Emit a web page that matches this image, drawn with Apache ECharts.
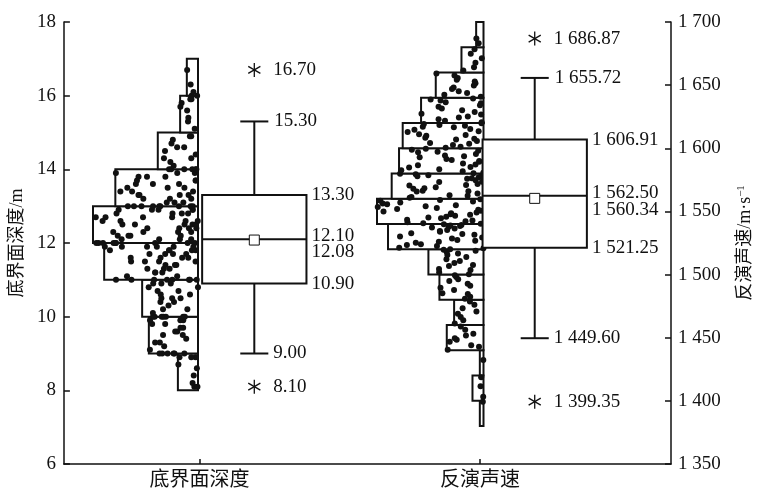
<!DOCTYPE html>
<html><head><meta charset="utf-8">
<script src="https://cdn.jsdelivr.net/npm/echarts@6/dist/echarts.min.js"></script>
<style>html,body{margin:0;padding:0;background:#fff}#c{width:762px;height:492px}</style>
</head><body><div id="c"></div>
<script>
// ---------------- data ----------------
const categories = ['底界面深度', '反演声速'];
const depthTicks = [6, 8, 10, 12, 14, 16, 18];
const velTicks = [1350, 1400, 1450, 1500, 1550, 1600, 1650, 1700];
const depthBinEdges = [8, 9, 10, 11, 12, 13, 14, 15, 16, 17];
const velBinEdges = [1380, 1400, 1420, 1440, 1460, 1480, 1500, 1520, 1540, 1560, 1580, 1600, 1620, 1640, 1660, 1680, 1700];
// box: [min, lower whisker, Q1, median, Q3, upper whisker, max]
const depthBox = [8.10, 9.00, 10.90, 12.10, 13.30, 15.30, 16.70];
const depthMean = 12.08;
const velBox = [1399.35, 1449.60, 1521.25, 1562.50, 1606.91, 1655.72, 1686.87];
const velMean = 1560.34;

const depthPoints = [
  8.1, 8.1, 8.2, 8.4, 8.6, 8.7, 8.9, 8.9, 8.9,
  9.0, 9.0, 9.0, 9.0, 9.0, 9.0, 9.1, 9.2, 9.3, 9.3, 9.4, 9.5, 9.5, 9.6, 9.6, 9.7, 9.7, 9.8, 9.8, 9.9, 9.9, 9.9,
  10.0, 10.0, 10.0, 10.0, 10.0, 10.0, 10.0, 10.1, 10.2, 10.2, 10.3, 10.4, 10.4, 10.5, 10.5, 10.5, 10.6, 10.6, 10.7, 10.7, 10.8, 10.8, 10.9, 10.9, 10.9,
  11.0, 11.0, 11.0, 11.0, 11.0, 11.0, 11.0, 11.0, 11.1, 11.1, 11.2, 11.2, 11.2, 11.3, 11.3, 11.3, 11.4, 11.4, 11.4, 11.5, 11.5, 11.5, 11.5,
  11.6, 11.6, 11.6, 11.6, 11.7, 11.7, 11.7, 11.7, 11.8, 11.8, 11.8, 11.8, 11.8, 11.9, 11.9, 11.9, 11.9, 11.9, 11.9,
  12.0, 12.0, 12.0, 12.0, 12.0, 12.0, 12.0, 12.0, 12.0, 12.1, 12.1, 12.1, 12.1, 12.2, 12.2, 12.2, 12.2, 12.3, 12.3, 12.3, 12.3,
  12.4, 12.4, 12.4, 12.4, 12.5, 12.5, 12.5, 12.5, 12.5, 12.6, 12.6, 12.6, 12.6, 12.7, 12.7, 12.7, 12.7, 12.8, 12.8, 12.8, 12.8,
  12.9, 12.9, 12.9, 12.9, 12.9,
  13.0, 13.0, 13.0, 13.0, 13.0, 13.0, 13.0, 13.0, 13.0, 13.1, 13.1, 13.1, 13.2, 13.2, 13.2, 13.3, 13.3, 13.3, 13.3,
  13.4, 13.4, 13.4, 13.5, 13.5, 13.5, 13.6, 13.6, 13.6, 13.7, 13.7, 13.7, 13.8, 13.8, 13.8, 13.9, 13.9, 13.9,
  14.0, 14.0, 14.0, 14.0, 14.0, 14.0, 14.1, 14.2, 14.3, 14.3, 14.4, 14.5, 14.6, 14.6, 14.7, 14.8, 14.9, 14.9,
  15.1, 15.3, 15.4, 15.6, 15.7, 15.8, 15.9, 15.9,
  16.0, 16.0, 16.1, 16.3, 16.7
];

const velPoints = [
  1399.35,
  1403.2, 1411.5, 1418.7,
  1432.4,
  1440.5, 1442.8, 1444.1, 1446.9, 1448.3, 1449.6, 1451.7, 1453.2, 1456.4, 1458.8,
  1461.2, 1463.9, 1466.5, 1469.0, 1470.8, 1473.4, 1476.1, 1478.7,
  1480.9, 1482.4, 1484.6, 1485.3, 1487.8, 1489.5, 1491.2, 1492.7, 1494.9, 1496.3, 1498.0, 1499.4,
  1500.3, 1501.9, 1503.6, 1504.4, 1506.8, 1507.5, 1509.1, 1510.7, 1512.2, 1513.9, 1515.4, 1516.6, 1517.9, 1518.8, 1519.6,
  1520.1, 1520.8, 1521.3, 1522.6, 1523.4, 1524.0, 1525.2, 1525.9, 1526.7, 1527.3, 1528.6, 1529.4, 1530.1, 1531.5, 1532.2, 1532.8,
  1533.9, 1534.6, 1535.3, 1536.5, 1537.2, 1537.9, 1538.4, 1538.8, 1539.3, 1539.9,
  1540.3, 1540.7, 1541.5, 1542.2, 1542.9, 1543.4, 1544.6, 1545.1, 1545.8, 1546.5, 1547.3, 1547.7, 1548.6, 1549.2, 1549.9,
  1550.5, 1551.4, 1551.9, 1552.7, 1553.5, 1554.1, 1554.8, 1555.6, 1556.3, 1557.1, 1557.8, 1558.4, 1559.0, 1559.6,
  1560.8, 1561.4, 1562.5, 1562.9, 1564.1, 1565.7, 1566.0, 1566.3, 1567.9, 1568.4, 1569.2, 1570.6, 1571.0, 1571.8, 1573.3,
  1573.5, 1574.7, 1575.9, 1576.2, 1577.0, 1577.8, 1578.1, 1578.6, 1579.4, 1579.9,
  1580.2, 1580.7, 1581.9, 1582.6, 1583.4, 1584.8, 1585.1, 1586.5, 1587.2, 1587.9, 1589.3, 1590.0, 1590.8, 1591.6, 1592.9,
  1593.7, 1594.2, 1595.5, 1596.8, 1597.3, 1598.1, 1598.9, 1599.6,
  1600.4, 1601.3, 1602.7, 1603.5, 1604.1, 1605.8, 1606.9, 1607.6, 1608.3, 1609.9, 1610.5, 1611.2, 1612.8, 1613.4, 1614.7,
  1615.3, 1616.6, 1617.1, 1617.9, 1618.5, 1619.2, 1619.8,
  1620.6, 1621.8, 1622.9, 1624.3, 1625.1, 1626.7, 1627.4, 1628.8, 1630.2, 1631.5, 1632.9, 1634.1, 1635.6, 1636.4, 1637.8, 1638.7, 1639.5,
  1640.9, 1642.3, 1643.8, 1645.2, 1646.9, 1648.1, 1649.7, 1651.4, 1652.8, 1654.3, 1655.7, 1657.6, 1659.2,
  1661.5, 1664.2, 1667.8, 1671.3, 1674.9, 1678.4,
  1683.1, 1686.87
];

// ---------------- helpers ----------------
const SERIF = '"Liberation Serif","Times New Roman","Noto Sans CJK SC",serif';
const catPos = [0, 1];

function binIndex(v, edges) {
  for (let i = 0; i < edges.length - 1; i++) {
    if (v >= edges[i] && v < edges[i + 1]) return i;
  }
  return edges.length - 2;
}
function histogram(points, edges) {
  const c = new Array(edges.length - 1).fill(0);
  points.forEach(v => c[binIndex(v, edges)]++);
  return c;
}
const depthCounts = histogram(depthPoints, depthBinEdges);
const velCounts = histogram(velPoints, velBinEdges);

function histData(counts, edges) {
  return counts.map((c, i) => [c, edges[i], edges[i + 1]]);
}
// deterministic horizontal jitter (layout only, no data): index hash -> position across the bin's bar
function jitter(i) {
  const s = Math.sin((i + 1) * 78.233) * 43758.5453;
  return s - Math.floor(s);
}
function dotData(points, edges, counts) {
  return points.map((v, i) => {
    const c = counts[binIndex(v, edges)];
    return [jitter(i) * c, v];
  });
}
function fmtThousands(v, digits) {
  const s = digits == null ? String(v) : v.toFixed(digits);
  const parts = s.split('.');
  const ip = parts[0].replace(/\B(?=(\d{3})+(?!\d))/g, ' ');
  return parts.length > 1 ? ip + '.' + parts[1] : ip;
}

function histSeries(counts, edges, gi) {
  return {
    type: 'custom', xAxisIndex: gi, yAxisIndex: gi + 1, z: 1,
    data: histData(counts, edges),
    renderItem: function (params, api) {
      const a = api.coord([api.value(0), api.value(2)]);
      const b = api.coord([0, api.value(1)]);
      return {
        type: 'rect',
        shape: { x: Math.min(a[0], b[0]), y: Math.min(a[1], b[1]), width: Math.abs(a[0] - b[0]), height: Math.abs(a[1] - b[1]) },
        style: { fill: '#fff', stroke: '#111', lineWidth: 2 }
      };
    }
  };
}
function dotSeries(points, edges, counts, gi) {
  return {
    type: 'scatter', xAxisIndex: gi, yAxisIndex: gi + 1, z: 2,
    symbol: 'circle', symbolSize: 6,
    itemStyle: { color: '#111', opacity: 1 },
    data: dotData(points, edges, counts)
  };
}

// box layout (in category-position units of the main x axis)
const BOX_OFF = 0.195, BOX_HALF = 0.186, CAP_HALF = 0.05;

function boxSeries(ci, box, mean, yIdx, fmt) {
  return {
    type: 'custom', xAxisIndex: 0, yAxisIndex: yIdx, z: 3,
    data: [[catPos[ci]]],
    renderItem: function (params, api) {
      const cx = catPos[ci] + BOX_OFF;
      const P = (x, y) => api.coord([x, y]);
      const c = P(cx, box[3]);
      const xl = P(cx - BOX_HALF, 0)[0], xr = P(cx + BOX_HALF, 0)[0];
      const cl = P(cx - CAP_HALF, 0)[0], cr = P(cx + CAP_HALF, 0)[0];
      const X = c[0];
      const y = v => P(cx, v)[1];
      const ls = { stroke: '#111', lineWidth: 2 };
      const font = '19px ' + SERIF;
      const txt = (x, yy, t) => ({ type: 'text', style: { x: x, y: yy, text: t, fill: '#111', font: font, align: 'left', verticalAlign: 'middle' } });
      const star = (yy) => {
        const r = 7, dx = r * Math.cos(Math.PI / 6), dy = r * Math.sin(Math.PI / 6);
        const st = { stroke: '#111', lineWidth: 1.3 };
        return [
          { type: 'line', shape: { x1: X, y1: yy - r, x2: X, y2: yy + r }, style: st },
          { type: 'line', shape: { x1: X - dx, y1: yy - dy, x2: X + dx, y2: yy + dy }, style: st },
          { type: 'line', shape: { x1: X - dx, y1: yy + dy, x2: X + dx, y2: yy - dy }, style: st }
        ];
      };
      const children = [
        { type: 'line', shape: { x1: X, y1: y(box[1]), x2: X, y2: y(box[2]) }, style: ls },
        { type: 'line', shape: { x1: X, y1: y(box[4]), x2: X, y2: y(box[5]) }, style: ls },
        { type: 'line', shape: { x1: cl, y1: y(box[1]), x2: cr, y2: y(box[1]) }, style: ls },
        { type: 'line', shape: { x1: cl, y1: y(box[5]), x2: cr, y2: y(box[5]) }, style: ls },
        { type: 'rect', shape: { x: xl, y: y(box[4]), width: xr - xl, height: y(box[2]) - y(box[4]) }, style: { fill: '#fff', stroke: '#111', lineWidth: 2 } },
        { type: 'line', shape: { x1: xl, y1: y(box[3]), x2: xr, y2: y(box[3]) }, style: ls },
        { type: 'rect', shape: { x: X - 5, y: y(mean) - 5, width: 10, height: 10 }, style: { fill: '#fff', stroke: '#111', lineWidth: 1 } }
      ].concat(star(y(box[6])), star(y(box[0])), [
        txt(X + 19, y(box[6]), fmt(box[6])),
        txt(cr + 6, y(box[5]), fmt(box[5])),
        txt(xr + 5, y(box[4]), fmt(box[4])),
        txt(xr + 5, y(box[3]) - 3, fmt(box[3])),
        txt(xr + 5, y(mean) + 12, fmt(mean)),
        txt(xr + 5, y(box[2]), fmt(box[2])),
        txt(cr + 5, y(box[1]), fmt(box[1])),
        txt(X + 19, y(box[0]), fmt(box[0]))
      ]);
      return { type: 'group', children: children };
    }
  };
}

const axisLineStyle = { color: '#111', width: 1.5 };
const GRID_TOP = 22, GRID_BOTTOM = 28;

const option = {
  animation: false,
  backgroundColor: '#fff',
  grid: [
    { left: 63, right: 82, top: GRID_TOP, bottom: GRID_BOTTOM },
    { left: 93, width: 105, top: GRID_TOP, bottom: GRID_BOTTOM },
    { left: 377, width: 106.5, top: GRID_TOP, bottom: GRID_BOTTOM }
  ],
  xAxis: [
    {
      gridIndex: 0, type: 'value', min: -0.484, max: 1.681,
      axisLine: { onZero: false, lineStyle: axisLineStyle },
      axisTick: { show: true, inside: true, length: 5, customValues: catPos, lineStyle: axisLineStyle },
      axisLabel: { customValues: catPos, formatter: v => categories[Math.round(v)], color: '#111', fontSize: 20, fontFamily: SERIF, margin: 7 },
      splitLine: { show: false }
    },
    { gridIndex: 1, type: 'value', min: 0, max: Math.max.apply(null, depthCounts), inverse: true, show: false },
    { gridIndex: 2, type: 'value', min: 0, max: Math.max.apply(null, velCounts), inverse: true, show: false }
  ],
  yAxis: [
    {
      gridIndex: 0, type: 'value', position: 'left', min: depthTicks[0], max: depthTicks[depthTicks.length - 1], interval: depthTicks[1] - depthTicks[0],
      name: '底界面深度/m', nameLocation: 'middle', nameGap: 30, nameRotate: 90,
      nameTextStyle: { color: '#111', fontSize: 18, fontFamily: SERIF },
      axisLine: { show: true, onZero: false, lineStyle: axisLineStyle },
      axisTick: { show: true, inside: true, length: 6, lineStyle: axisLineStyle },
      axisLabel: { color: '#111', fontSize: 19, fontFamily: SERIF, margin: 8 },
      splitLine: { show: false }
    },
    {
      gridIndex: 0, type: 'value', position: 'right', min: velTicks[0], max: velTicks[velTicks.length - 1], interval: velTicks[1] - velTicks[0],
      name: '反演声速/m·s{sup|−1}', nameLocation: 'middle', nameGap: 65, nameRotate: 90,
      nameTextStyle: { color: '#111', fontSize: 18, fontFamily: SERIF, rich: { sup: { fontSize: 11, fontFamily: SERIF, color: '#111', verticalAlign: 'top' } } },
      axisLine: { show: true, onZero: false, lineStyle: axisLineStyle },
      axisTick: { show: true, inside: true, length: 6, lineStyle: axisLineStyle },
      axisLabel: { color: '#111', fontSize: 19, fontFamily: SERIF, margin: 7, formatter: v => fmtThousands(v) },
      splitLine: { show: false }
    },
    { gridIndex: 1, type: 'value', min: depthTicks[0], max: depthTicks[depthTicks.length - 1], show: false },
    { gridIndex: 2, type: 'value', min: velTicks[0], max: velTicks[velTicks.length - 1], show: false }
  ],
  series: [
    histSeries(depthCounts, depthBinEdges, 1),
    dotSeries(depthPoints, depthBinEdges, depthCounts, 1),
    histSeries(velCounts, velBinEdges, 2),
    dotSeries(velPoints, velBinEdges, velCounts, 2),
    boxSeries(0, depthBox, depthMean, 0, v => v.toFixed(2)),
    boxSeries(1, velBox, velMean, 1, v => fmtThousands(v, 2))
  ]
};

const chart = echarts.init(document.getElementById('c'), null, { renderer: 'canvas' });
chart.setOption(option);
</script>
</body></html>
